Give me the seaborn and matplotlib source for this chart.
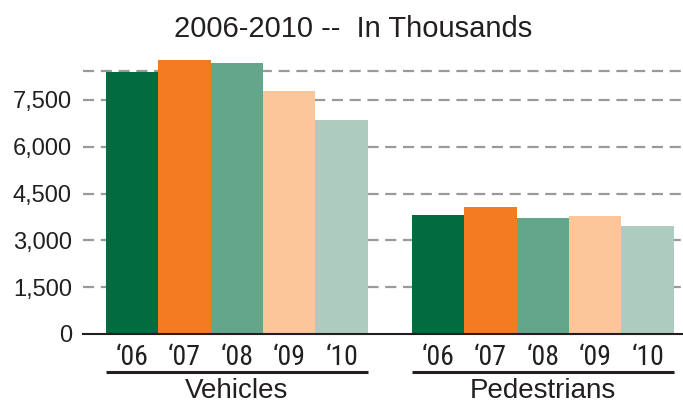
import matplotlib
matplotlib.use("Agg")
import matplotlib.pyplot as plt
import matplotlib.transforms as mtransforms
from matplotlib import font_manager
import pandas as pd
import seaborn as sns

# values (thousands)
groups = ["Vehicles", "Pedestrians"]
years = ["\u201806", "\u201807", "\u201808", "\u201809", "\u201810"]
vehicles = [8400, 8780, 8690, 7790, 6860]
pedestrians = [3810, 4070, 3720, 3780, 3460]
yticks = [0, 1500, 3000, 4500, 6000, 7500]
extra_grid = 8430
colors = ["#026B3F", "#F37C22", "#64A68B", "#FDC69A", "#ADCCBF"]

df = pd.DataFrame({
    "group": [g for g in groups for _ in years],
    "year": years * len(groups),
    "value": vehicles + pedestrians,
})

sns.set_style("white")
plt.rcParams["font.family"] = ["Liberation Sans", "DejaVu Sans"]

# year labels use a narrow face if one is around
installed = {f.name for f in font_manager.fontManager.ttflist}
narrow = next((n for n in ["Liberation Sans Narrow", "Arial Narrow",
                           "Roboto Condensed", "Open Sans Condensed"]
               if n in installed), None)
year_font = dict(family=[narrow, "Liberation Sans"], fontsize=20) if narrow \
    else dict(family=["Liberation Sans"], fontsize=18)

fig = plt.figure(figsize=(6.83, 4.04), dpi=100)
ax = fig.add_axes([83 / 683, 70 / 404, 1 - 83 / 683, 281 / 404])

sns.barplot(data=df, x="group", y="value", hue="year", palette=colors,
            width=0.856, saturation=1, linewidth=0, edgecolor="none",
            legend=False, ax=ax, zorder=3)

ax.set_ylim(0, 9000)
ax.set_xlim(-0.503, 1.458)

# dashed grid
grid_kw = dict(color="#9A9A9A", lw=1.6, ls=(0, (5, 3)), zorder=1)
for v in yticks[1:] + [extra_grid]:
    ax.axhline(v, **grid_kw)

ax.set_yticks(yticks)
ax.set_yticklabels([f"{v:,}" for v in yticks], fontsize=17, color="#231F20")
ax.tick_params(axis="y", length=0, pad=8)
ax.set_xticks([])
ax.set_xlabel("")
ax.set_ylabel("")
for s in ["top", "right", "left"]:
    ax.spines[s].set_visible(False)
ax.spines["bottom"].set_color("#231F20")
ax.spines["bottom"].set_linewidth(1.5)
ax.spines["bottom"].set_zorder(4)

trans = mtransforms.blended_transform_factory(ax.transData, ax.transAxes)
patches = sorted(ax.patches, key=lambda p: p.get_x())
n = len(years)
for gi, g in enumerate(groups):
    grp = patches[gi * n:(gi + 1) * n]
    for yi, p in enumerate(grp):
        cx = p.get_x() + p.get_width() / 2
        ax.text(cx, -0.110, years[yi], transform=trans, ha="center",
                va="baseline", color="#231F20", **year_font)
    x0 = grp[0].get_x()
    x1 = grp[-1].get_x() + grp[-1].get_width()
    ax.plot([x0, x1], [-0.134, -0.134], transform=trans, color="#231F20",
            lw=2.2, clip_on=False, solid_capstyle="butt")
    ax.text((x0 + x1) / 2, -0.228, g, transform=trans, ha="center",
            va="baseline", fontsize=20, color="#231F20")

fig.text(353 / 683, 1 - 37 / 404, "2006-2010 --  In Thousands", ha="center",
         va="baseline", fontsize=21, color="#231F20")

fig.savefig("out.png", dpi=100)
